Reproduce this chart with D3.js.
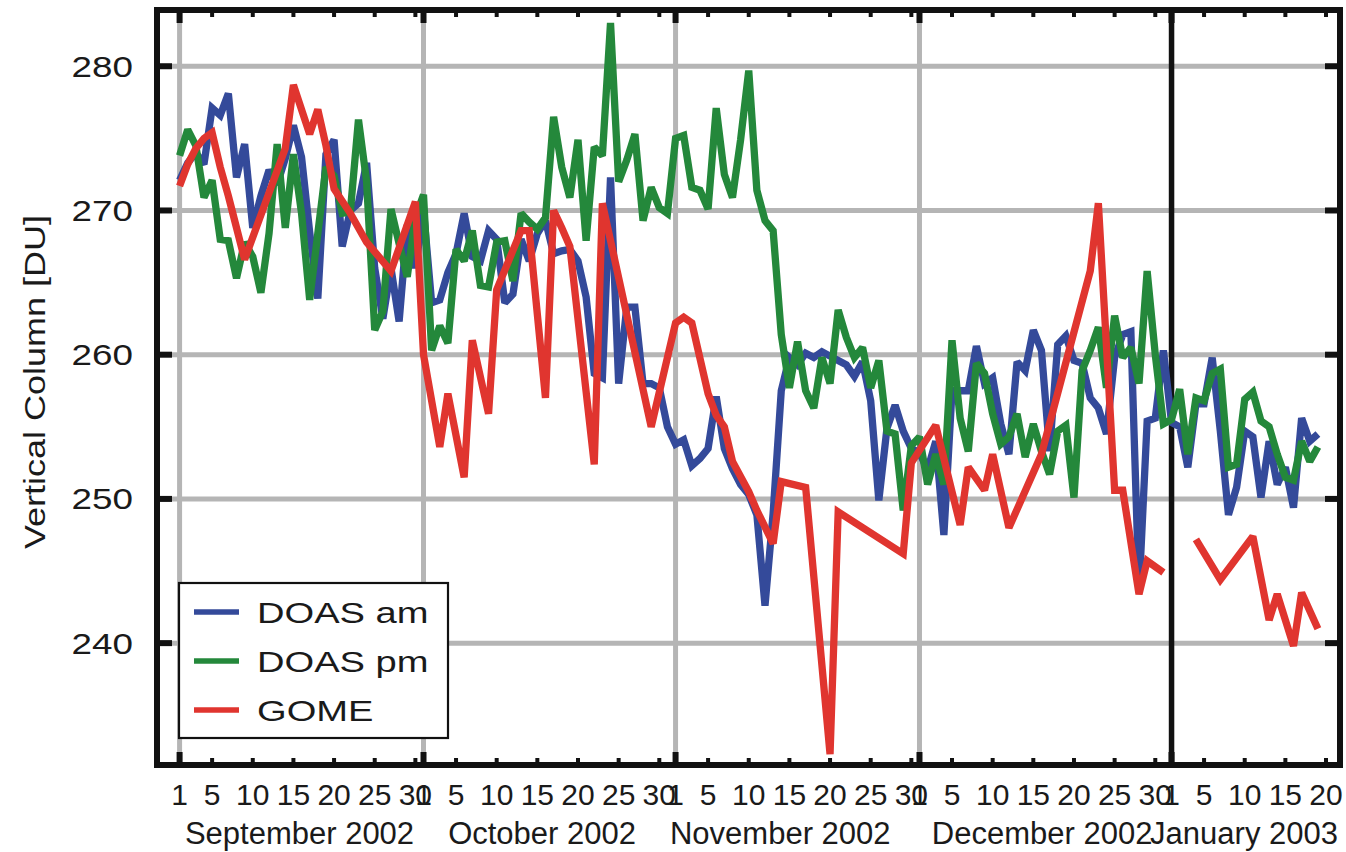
<!DOCTYPE html>
<html>
<head>
<meta charset="utf-8">
<script src="https://cdn.jsdelivr.net/npm/d3@7"></script>
<style>
  body { margin: 0; background: #fff; }
  svg { display: block; }
  text { font-family: "Liberation Sans", Arial, Helvetica, sans-serif; fill: #1a1a1a; }
</style>
</head>
<body>
<svg id="chart" width="1346" height="852"></svg>
<script>
// ---- data -------------------------------------------------------------
// daily ozone vertical columns [DU], one value per day starting 1 Sep 2002
const seriesStart = "2002-09-01";

const doasAm = [
  272.1, 273.3, 274.0, 273.2, 277.1, 276.6, 278.1, 272.3, 274.6, 268.8,
  271.0, 272.8, 271.8, 273.6, 275.9, 273.7, 268.5, 263.9, 273.9, 274.9,
  267.5, 270.0, 270.5, 273.3, 266.0, 262.5, 266.0, 262.3, 269.0, 266.0,
  270.0, 263.6, 263.8, 265.7, 267.0, 269.8, 266.8, 266.5, 268.6, 268.0,
  263.6, 264.2, 268.0, 266.5, 268.4, 269.3, 267.0, 267.2, 267.3, 266.5,
  264.0, 258.7, 258.4, 272.3, 258.0, 263.3, 263.3, 258.0, 258.0, 257.7,
  255.0, 253.8, 254.1, 252.3, 252.8, 253.5, 257.1, 253.5, 252.1, 251.0,
  250.3, 248.9, 242.6, 249.0, 257.5, 259.8, 259.3, 260.1, 259.8, 260.2,
  259.9, 259.6, 259.3, 258.5, 259.5, 256.8, 249.9, 254.9, 256.5, 254.7,
  253.5, 253.2, 252.0, 254.0, 247.5, 257.5, 257.5, 257.5, 260.6, 258.0,
  258.4, 255.2, 253.1, 259.5, 258.9, 261.7, 260.3, 253.3, 260.7, 261.3,
  259.6, 259.4, 257.0, 256.3, 254.5, 259.8, 261.4, 261.6, 243.6, 255.4,
  255.6, 260.3, 255.3, 255.0, 252.2, 256.6, 256.6, 259.8, 254.7, 248.9,
  250.8, 254.7, 254.3, 250.1, 254.0, 251.0, 252.2, 249.4, 255.6, 254.0,
  254.5
];

const doasPm = [
  273.8, 275.6, 274.5, 270.9, 272.1, 268.0, 267.9, 265.3, 267.8, 266.8,
  264.3, 268.4, 274.6, 268.8, 273.9, 269.8, 263.8, 268.4, 273.0, 272.4,
  269.8, 269.9, 276.3, 272.0, 261.7, 263.0, 270.1, 267.7, 265.4, 269.5,
  271.1, 260.3, 262.0, 260.8, 267.3, 266.5, 268.6, 264.8, 264.7, 267.8,
  267.9, 265.1, 269.8, 269.2, 268.7, 269.5, 276.5, 273.0, 270.9, 274.9,
  267.9, 274.4, 273.8, 283.0, 272.0, 273.5, 275.3, 269.3, 271.6, 270.2,
  269.8, 275.0, 275.2, 271.6, 271.4, 270.1, 277.1, 272.5, 270.9, 274.9,
  279.7, 271.4, 269.3, 268.6, 261.4, 257.7, 260.9, 257.5, 256.3, 259.8,
  258.0, 263.1, 261.2, 259.8, 260.5, 257.7, 259.6, 254.7, 254.5, 249.2,
  253.7, 254.3, 251.0, 253.1, 251.0, 261.0, 255.6, 253.3, 259.4, 258.7,
  255.9, 253.8, 254.3, 255.9, 252.9, 255.2, 253.3, 251.7, 254.7, 255.1,
  250.1, 258.9, 260.3, 261.9, 257.7, 262.7, 259.8, 260.5, 258.0, 265.8,
  260.0, 255.2, 255.5, 257.6, 253.1, 257.0, 256.8, 258.7, 259.0, 252.2,
  252.4, 256.9, 257.4, 255.4, 255.0, 253.1, 251.5, 251.3, 254.0, 252.6,
  253.6
];

// satellite overpasses: dates and columns (null marks the break at the turn of the year)
const gomeDates = [
  "2002-09-01", "2002-09-02", "2002-09-03", "2002-09-04", "2002-09-05", "2002-09-06",
  "2002-09-07", "2002-09-08", "2002-09-09", "2002-09-14", "2002-09-15", "2002-09-17",
  "2002-09-18", "2002-09-19", "2002-09-20", "2002-09-22", "2002-09-24", "2002-09-27",
  "2002-09-30", "2002-10-01", "2002-10-03", "2002-10-04", "2002-10-06", "2002-10-07",
  "2002-10-09", "2002-10-10", "2002-10-13", "2002-10-14", "2002-10-16", "2002-10-17",
  "2002-10-18", "2002-10-19", "2002-10-22", "2002-10-23", "2002-10-29", "2002-11-01",
  "2002-11-02", "2002-11-03", "2002-11-05", "2002-11-06", "2002-11-07", "2002-11-08",
  "2002-11-10", "2002-11-11", "2002-11-13", "2002-11-14", "2002-11-17", "2002-11-20",
  "2002-11-21", "2002-11-29", "2002-11-30", "2002-12-03", "2002-12-06", "2002-12-07",
  "2002-12-09", "2002-12-10", "2002-12-12", "2002-12-16", "2002-12-22", "2002-12-23",
  "2002-12-25", "2002-12-26", "2002-12-28", "2002-12-29", "2002-12-31", "2003-01-02",
  "2003-01-04", "2003-01-07", "2003-01-11", "2003-01-13", "2003-01-14", "2003-01-16",
  "2003-01-17", "2003-01-19"
];
const gomeValues = [
  271.7, 273.2, 274.3, 275.0, 275.4, 273.0,
  271.0, 268.8, 266.6, 274.3, 278.7, 275.3,
  277.0, 274.5, 271.5, 269.8, 267.8, 265.8,
  270.6, 260.0, 253.6, 257.3, 251.5, 261.0,
  255.9, 264.5, 268.6, 268.6, 257.0, 270.0,
  268.8, 267.5, 252.4, 270.5, 255.0, 262.2,
  262.6, 262.2, 257.3, 255.8, 255.0, 252.6,
  250.5, 249.2, 246.9, 251.2, 250.8, 232.3,
  249.1, 246.2, 252.5, 255.1, 248.2, 252.2,
  250.6, 253.1, 248.0, 253.1, 265.8, 270.5,
  250.6, 250.6, 243.4, 245.7, 244.9, null,
  247.2, 244.4, 247.4, 241.6, 243.4, 239.8,
  243.5, 241.0
];

const seriesNames = ["DOAS am", "DOAS pm", "GOME"];
const seriesColors = ["#344a9a", "#24883b", "#e0352f"];

const yTicks = [240, 250, 260, 270, 280];
const monthStarts = ["2002-09-01", "2002-10-01", "2002-11-01", "2002-12-01", "2003-01-01"];
const monthNames = ["September 2002", "October 2002", "November 2002", "December 2002", "January 2003"];
const monthNameAt = ["2002-09-15T18:00", "2002-10-15T14:00", "2002-11-13T21:00", "2002-12-16T02:00", "2003-01-09T22:00"];
const dayTicks = [1, 5, 10, 15, 20, 25, 30];
const janDayTicks = [1, 5, 10, 15, 20];

// ---- layout -----------------------------------------------------------
const W = 1346, H = 852;
const plot = { left: 157, right: 1340, top: 10, bottom: 765 };

const parseDay = d3.utcParse("%Y-%m-%d");
const parseHour = d3.utcParse("%Y-%m-%dT%H:%M");

const x = d3.scaleUtc()
  .domain([parseHour("2002-08-29T05:20"), parseHour("2003-01-21T17:15")])
  .range([plot.left, plot.right]);
const y = d3.scaleLinear()
  .domain([231.55, 283.9])
  .range([plot.bottom, plot.top]);

const svg = d3.select("#chart");
svg.append("rect").attr("width", W).attr("height", H).attr("fill", "#fff");

svg.append("defs").append("clipPath").attr("id", "plotClip")
  .append("rect")
  .attr("x", plot.left).attr("y", plot.top)
  .attr("width", plot.right - plot.left).attr("height", plot.bottom - plot.top);

// ---- grid -------------------------------------------------------------
const grid = svg.append("g");
const gridColor = "#b5b5b5";
grid.selectAll("line.h").data(yTicks).join("line")
  .attr("x1", plot.left).attr("x2", plot.right)
  .attr("y1", d => y(d)).attr("y2", d => y(d))
  .attr("stroke", gridColor).attr("stroke-width", 5);

const monthDates = monthStarts.map(parseDay);
grid.selectAll("line.v").data(monthDates.slice(0, 4)).join("line")
  .attr("x1", d => x(d)).attr("x2", d => x(d))
  .attr("y1", plot.top).attr("y2", plot.bottom)
  .attr("stroke", gridColor).attr("stroke-width", 5);

// year boundary
svg.append("line")
  .attr("x1", x(monthDates[4])).attr("x2", x(monthDates[4]))
  .attr("y1", plot.top).attr("y2", plot.bottom)
  .attr("stroke", "#111").attr("stroke-width", 5.5);

// ---- series -----------------------------------------------------------
const start = parseDay(seriesStart);
const dayPoints = vals => vals.map((v, i) => ({ date: d3.utcDay.offset(start, i), value: v }));
const gomePoints = gomeDates.map((d, i) => ({ date: parseDay(d), value: gomeValues[i] }));

const line = d3.line()
  .defined(d => d.value != null)
  .x(d => x(d.date))
  .y(d => y(d.value));

const seriesData = [dayPoints(doasAm), dayPoints(doasPm), gomePoints];
svg.append("g").attr("clip-path", "url(#plotClip)")
  .selectAll("path").data(seriesData).join("path")
  .attr("d", line)
  .attr("fill", "none")
  .attr("stroke", (d, i) => seriesColors[i])
  .attr("stroke-width", 7.3)
  .attr("stroke-linejoin", "miter")
  .attr("stroke-miterlimit", 2.2)
  .attr("stroke-linecap", "butt");

// ---- frame and ticks --------------------------------------------------
const ink = "#111";
const axes = svg.append("g");

// minor ticks on top and bottom edges
const minorDates = [];
monthDates.forEach((m, i) => {
  const days = i === 4 ? janDayTicks : dayTicks;
  days.forEach(dd => { if (dd !== 1) minorDates.push(d3.utcDay.offset(m, dd - 1)); });
});
[plot.top, plot.bottom].forEach((edge, k) => {
  const dir = k === 0 ? 1 : -1;
  axes.selectAll(null).data(minorDates).join("line")
    .attr("x1", d => x(d)).attr("x2", d => x(d))
    .attr("y1", edge).attr("y2", edge + dir * 7)
    .attr("stroke", ink).attr("stroke-width", 4);
  axes.selectAll(null).data(monthDates).join("line")
    .attr("x1", d => x(d)).attr("x2", d => x(d))
    .attr("y1", edge).attr("y2", edge + dir * 13)
    .attr("stroke", ink).attr("stroke-width", 6);
});
// value ticks on left and right edges
[plot.left, plot.right].forEach((edge, k) => {
  const dir = k === 0 ? 1 : -1;
  axes.selectAll(null).data(yTicks).join("line")
    .attr("x1", edge).attr("x2", edge + dir * 15)
    .attr("y1", d => y(d)).attr("y2", d => y(d))
    .attr("stroke", ink).attr("stroke-width", 6);
});

axes.append("rect")
  .attr("x", plot.left).attr("y", plot.top)
  .attr("width", plot.right - plot.left).attr("height", plot.bottom - plot.top)
  .attr("fill", "none").attr("stroke", ink).attr("stroke-width", 6);

// ---- labels -----------------------------------------------------------
const stretch = 1.27;
svg.append("g").selectAll("text").data(yTicks).join("text")
  .attr("transform", d => `translate(133,${y(d) + 10.5}) scale(${stretch},1)`)
  .attr("text-anchor", "end")
  .attr("font-size", 29)
  .text(d => d);

svg.append("text")
  .attr("transform", `translate(45,382) rotate(-90) scale(1.2,1)`)
  .attr("text-anchor", "middle")
  .attr("font-size", 30)
  .text("Vertical Column [DU]");

const tickLabels = [];
monthDates.forEach((m, i) => {
  const days = i === 4 ? janDayTicks : dayTicks;
  days.forEach(dd => tickLabels.push({ date: d3.utcDay.offset(m, dd - 1), label: dd }));
});
svg.append("g").selectAll("text").data(tickLabels).join("text")
  .attr("x", d => x(d.date))
  .attr("y", 805)
  .attr("text-anchor", "middle")
  .attr("font-size", 30)
  .text(d => d.label);

svg.append("g").selectAll("text").data(monthNames).join("text")
  .attr("x", (d, i) => x(parseHour(monthNameAt[i])))
  .attr("y", 844)
  .attr("text-anchor", "middle")
  .attr("font-size", 31)
  .text(d => d);

// ---- legend -----------------------------------------------------------
const legend = svg.append("g").attr("transform", "translate(179,583)");
legend.append("rect")
  .attr("width", 269).attr("height", 155)
  .attr("fill", "#fff").attr("stroke", ink).attr("stroke-width", 2.2);
const rows = legend.selectAll("g").data(seriesNames).join("g")
  .attr("transform", (d, i) => `translate(0,${29 + i * 49})`);
rows.append("line")
  .attr("x1", 15).attr("x2", 60)
  .attr("stroke", (d, i) => seriesColors[i]).attr("stroke-width", 5.5);
rows.append("text")
  .attr("transform", `translate(78,11) scale(${stretch},1)`)
  .attr("font-size", 30)
  .text(d => d);
</script>
</body>
</html>
